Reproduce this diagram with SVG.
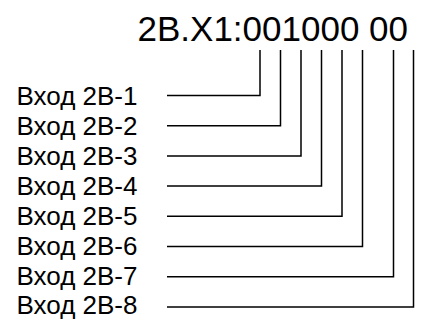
<svg xmlns="http://www.w3.org/2000/svg" width="425" height="320" viewBox="0 0 425 320">
<style>
text{font-family:"Liberation Sans",Arial,sans-serif;fill:#000}
.t{font-size:35px}
.l{font-size:26px}
.c{fill:none;stroke:#000;stroke-width:1.5}
</style>
<rect width="425" height="320" fill="#fff"/>
<g id="title"><text class="t" x="137.5" y="40.5">2B.X1:001000 00</text></g>
<g id="in1"><text class="l" x="16.5" y="104.6">Вход 2B-1</text></g>
<g id="in2"><text class="l" x="16.5" y="134.6">Вход 2B-2</text></g>
<g id="in3"><text class="l" x="16.5" y="164.6">Вход 2B-3</text></g>
<g id="in4"><text class="l" x="16.5" y="194.6">Вход 2B-4</text></g>
<g id="in5"><text class="l" x="16.5" y="224.6">Вход 2B-5</text></g>
<g id="in6"><text class="l" x="16.5" y="254.6">Вход 2B-6</text></g>
<g id="in7"><text class="l" x="16.5" y="284.6">Вход 2B-7</text></g>
<g id="in8"><text class="l" x="16.5" y="314.4">Вход 2B-8</text></g>
<g id="connectors" class="c">
<polyline points="167,95.5 260,95.5 260,50"/>
<polyline points="167,125.7 280.5,125.7 280.5,50"/>
<polyline points="167,155.9 301,155.9 301,50"/>
<polyline points="167,186.1 321.5,186.1 321.5,50"/>
<polyline points="167,216.3 342,216.3 342,50"/>
<polyline points="167,246.5 362.5,246.5 362.5,50"/>
<polyline points="167,276.7 393.5,276.7 393.5,50"/>
<polyline points="167,306.9 413.5,306.9 413.5,50"/>
</g>
</svg>
